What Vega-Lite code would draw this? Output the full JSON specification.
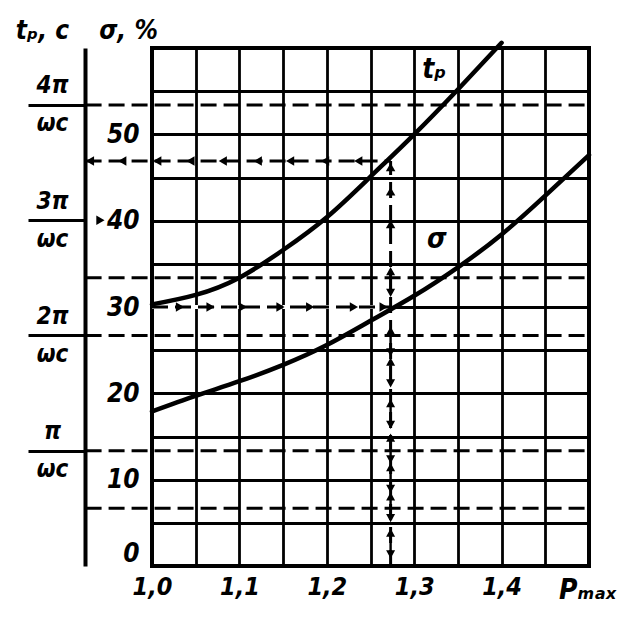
{
  "$schema": "https://vega.github.io/schema/vega-lite/v6.json",
  "width": 437,
  "height": 518,
  "autosize": {"type": "none"},
  "padding": {"left": 152, "top": 48, "right": 34, "bottom": 55},
  "background": "white",
  "config": {
    "view": {"stroke": "black", "strokeWidth": 4},
    "font": "DejaVu Sans Condensed, DejaVu Sans, Liberation Sans"
  },
  "layer": [
    {
      "layer": [
        {
          "data": {"values": [{"P": 1.0, "P2": 1.273, "s": 30}]},
          "mark": {"type": "rule", "stroke": "white", "strokeWidth": 4},
          "encoding": {
            "x": {
              "field": "P", "type": "quantitative",
              "scale": {"domain": [1.0, 1.5], "nice": false, "zero": false},
              "axis": {
                "values": [1.0, 1.05, 1.1, 1.15, 1.2, 1.25, 1.3, 1.35, 1.4, 1.45, 1.5],
                "labelExpr": "round(datum.value*100) % 10 == 0 && datum.value < 1.45 ? replace(format(datum.value, '.1f'), '.', ',') : ''",
                "grid": true, "gridColor": "black", "gridWidth": 2.8, "gridOpacity": 1,
                "ticks": false, "domain": false,
                "labelFontSize": 25, "labelFontStyle": "italic", "labelFontWeight": "bold",
                "labelColor": "black", "labelPadding": 8, "labelOverlap": false, "labelFlush": false,
                "title": "Pₘₐₓ", "titleX": 435, "titleY": 24, "titleAlign": "center", "titleBaseline": "middle",
                "titleFontSize": 28, "titleFontStyle": "italic", "titleFontWeight": "bold", "titleColor": "black"
              }
            },
            "x2": {"field": "P2"},
            "y": {
              "field": "s", "type": "quantitative",
              "scale": {"domain": [0, 60], "nice": false, "zero": false},
              "axis": {
                "values": [0, 5, 10, 15, 20, 25, 30, 35, 40, 45, 50, 55, 60],
                "labelExpr": "datum.value % 10 == 0 && datum.value < 60 ? datum.label : ''",
                "grid": true, "gridColor": "black", "gridWidth": 2.8, "gridOpacity": 1,
                "ticks": false, "domain": false,
                "labelFontSize": 26, "labelFontStyle": "italic", "labelFontWeight": "bold",
                "labelColor": "black", "labelPadding": 13, "labelOverlap": false, "labelFlush": true,
                "title": "σ, %", "titleAngle": 0, "titleX": -24, "titleY": -18, "titleAlign": "center", "titleBaseline": "middle",
                "titleFontSize": 26, "titleFontStyle": "italic", "titleFontWeight": "bold", "titleColor": "black"
              }
            }
          }
        },
        {
          "data": {"values": [
            {"P": 1.0, "P2": 1.273, "s": 30, "s2": 30},
            {"P": 0.924, "P2": 1.273, "s": 46.9, "s2": 46.9},
            {"P": 1.273, "P2": 1.273, "s": 0, "s2": 46.9}
          ]},
          "mark": {"type": "rule", "color": "black", "strokeWidth": 3, "strokeDash": [16, 7]},
          "encoding": {
            "x": {"field": "P", "type": "quantitative", "scale": {"domain": [1.0, 1.5], "nice": false, "zero": false}},
            "x2": {"field": "P2"},
            "y": {"field": "s", "type": "quantitative", "scale": {"domain": [0, 60], "nice": false, "zero": false}},
            "y2": {"field": "s2"}
          }
        },
        {
          "data": {"values": [
            {"P": 0.929, "s": 46.9, "dir": "left"},
            {"P": 0.966, "s": 46.9, "dir": "left"},
            {"P": 1.006, "s": 46.9, "dir": "left"},
            {"P": 1.044, "s": 46.9, "dir": "left"},
            {"P": 1.081, "s": 46.9, "dir": "left"},
            {"P": 1.121, "s": 46.9, "dir": "left"},
            {"P": 1.158, "s": 46.9, "dir": "left"},
            {"P": 1.198, "s": 46.9, "dir": "left"},
            {"P": 1.236, "s": 46.9, "dir": "left"},
            {"P": 1.032, "s": 30, "dir": "right"},
            {"P": 1.067, "s": 30, "dir": "right"},
            {"P": 1.104, "s": 30, "dir": "right"},
            {"P": 1.147, "s": 30, "dir": "right"},
            {"P": 1.181, "s": 30, "dir": "right"},
            {"P": 1.231, "s": 30, "dir": "right"},
            {"P": 1.265, "s": 30, "dir": "right"},
            {"P": 1.273, "s": 46.2, "dir": "up"},
            {"P": 1.273, "s": 43.4, "dir": "up"},
            {"P": 1.273, "s": 39.6, "dir": "up"},
            {"P": 0.941, "s": 40.05, "dir": "right"}
          ]},
          "mark": {"type": "point", "filled": true, "color": "black", "opacity": 1, "size": 90},
          "encoding": {
            "x": {"field": "P", "type": "quantitative", "scale": {"domain": [1.0, 1.5], "nice": false, "zero": false}},
            "y": {"field": "s", "type": "quantitative", "scale": {"domain": [0, 60], "nice": false, "zero": false}},
            "shape": {"field": "dir", "type": "nominal", "scale": {"domain": ["left", "right", "up"], "range": ["triangle-left", "triangle-right", "triangle-up"]}, "legend": null}
          }
        },
        {
          "data": {"values": [
            {"P": 1.273, "s": 32.9},
            {"P": 1.273, "s": 26.0},
            {"P": 1.273, "s": 22.4},
            {"P": 1.273, "s": 17.6},
            {"P": 1.273, "s": 13.6},
            {"P": 1.273, "s": 10.2},
            {"P": 1.273, "s": 6.8},
            {"P": 1.273, "s": 2.6}
          ]},
          "mark": {"type": "point", "filled": true, "color": "black", "opacity": 1, "size": 900,
                   "shape": "M0,-1L0.3,-0.45L0.08,-0.45L0.08,0.45L0.3,0.45L0,1L-0.3,0.45L-0.08,0.45L-0.08,-0.45L-0.3,-0.45Z"},
          "encoding": {
            "x": {"field": "P", "type": "quantitative", "scale": {"domain": [1.0, 1.5], "nice": false, "zero": false}},
            "y": {"field": "s", "type": "quantitative", "scale": {"domain": [0, 60], "nice": false, "zero": false}}
          }
        },
        {
          "data": {"values": [
            {"c": "tp", "P": 1.0, "s": 30.3},
            {"c": "tp", "P": 1.05, "s": 31.4},
            {"c": "tp", "P": 1.1, "s": 33.4},
            {"c": "tp", "P": 1.15, "s": 36.6},
            {"c": "tp", "P": 1.2, "s": 40.4},
            {"c": "tp", "P": 1.25, "s": 45.1},
            {"c": "tp", "P": 1.3, "s": 50.0},
            {"c": "tp", "P": 1.35, "s": 55.2},
            {"c": "tp", "P": 1.4, "s": 60.6},
            {"c": "sigma", "P": 1.0, "s": 17.9},
            {"c": "sigma", "P": 1.05, "s": 19.7},
            {"c": "sigma", "P": 1.1, "s": 21.4},
            {"c": "sigma", "P": 1.15, "s": 23.3},
            {"c": "sigma", "P": 1.2, "s": 25.6},
            {"c": "sigma", "P": 1.25, "s": 28.4},
            {"c": "sigma", "P": 1.3, "s": 31.3},
            {"c": "sigma", "P": 1.35, "s": 34.6},
            {"c": "sigma", "P": 1.4, "s": 38.4},
            {"c": "sigma", "P": 1.45, "s": 42.9},
            {"c": "sigma", "P": 1.5, "s": 47.6}
          ]},
          "mark": {"type": "line", "color": "black", "strokeWidth": 4.5, "interpolate": "natural", "strokeCap": "round"},
          "encoding": {
            "x": {"field": "P", "type": "quantitative", "scale": {"domain": [1.0, 1.5], "nice": false, "zero": false}},
            "y": {"field": "s", "type": "quantitative", "scale": {"domain": [0, 60], "nice": false, "zero": false}},
            "detail": {"field": "c", "type": "nominal"}
          }
        },
        {
          "data": {"values": [
            {"P": 1.323, "s": 57.5, "t": "tₚ"},
            {"P": 1.326, "s": 37.8, "t": "σ"}
          ]},
          "mark": {"type": "text", "color": "black", "fontSize": 28, "fontStyle": "italic", "fontWeight": "bold", "align": "center", "baseline": "middle"},
          "encoding": {
            "x": {"field": "P", "type": "quantitative", "scale": {"domain": [1.0, 1.5], "nice": false, "zero": false}},
            "y": {"field": "s", "type": "quantitative", "scale": {"domain": [0, 60], "nice": false, "zero": false}},
            "text": {"field": "t", "type": "nominal"}
          }
        }
      ]
    },
    {
      "data": {"values": [
        {"P": 0.924, "P2": 1.5, "s": 6.7},
        {"P": 0.924, "P2": 1.5, "s": 13.35},
        {"P": 0.924, "P2": 1.5, "s": 26.7},
        {"P": 0.924, "P2": 1.5, "s": 33.4},
        {"P": 0.924, "P2": 1.5, "s": 53.4}
      ]},
      "mark": {"type": "rule", "color": "black", "strokeWidth": 3, "strokeDash": [16, 7]},
      "encoding": {
        "x": {"field": "P", "type": "quantitative", "scale": {"domain": [1.0, 1.5], "nice": false, "zero": false}},
        "x2": {"field": "P2"},
        "y": {
          "field": "s", "type": "quantitative",
          "scale": {"domain": [0, 60], "nice": false, "zero": false},
          "axis": {
            "orient": "left", "offset": 67,
            "values": [13.35, 26.7, 40.05, 53.4],
            "labelExpr": "[datum.value < 20 ? 'π' : datum.value < 30 ? '2π' : datum.value < 45 ? '3π' : '4π', 'ωc']",
            "grid": false,
            "domain": true, "domainColor": "black", "domainWidth": 4,
            "ticks": true, "tickSize": 57, "tickWidth": 3, "tickColor": "black",
            "labelAlign": "center", "labelBaseline": "middle", "labelPadding": -24, "labelLineHeight": 38,
            "labelOffset": -19,
            "labelFontSize": 24, "labelFontStyle": "italic", "labelFontWeight": "bold", "labelColor": "black",
            "labelOverlap": false, "labelFlush": false,
            "title": "tₚ, c", "titleAngle": 0, "titleX": -43, "titleY": -18, "titleAlign": "center", "titleBaseline": "middle",
            "titleFontSize": 26, "titleFontStyle": "italic", "titleFontWeight": "bold", "titleColor": "black"
          }
        }
      }
    }
  ],
  "resolve": {"scale": {"y": "independent"}, "axis": {"y": "independent"}}
}
